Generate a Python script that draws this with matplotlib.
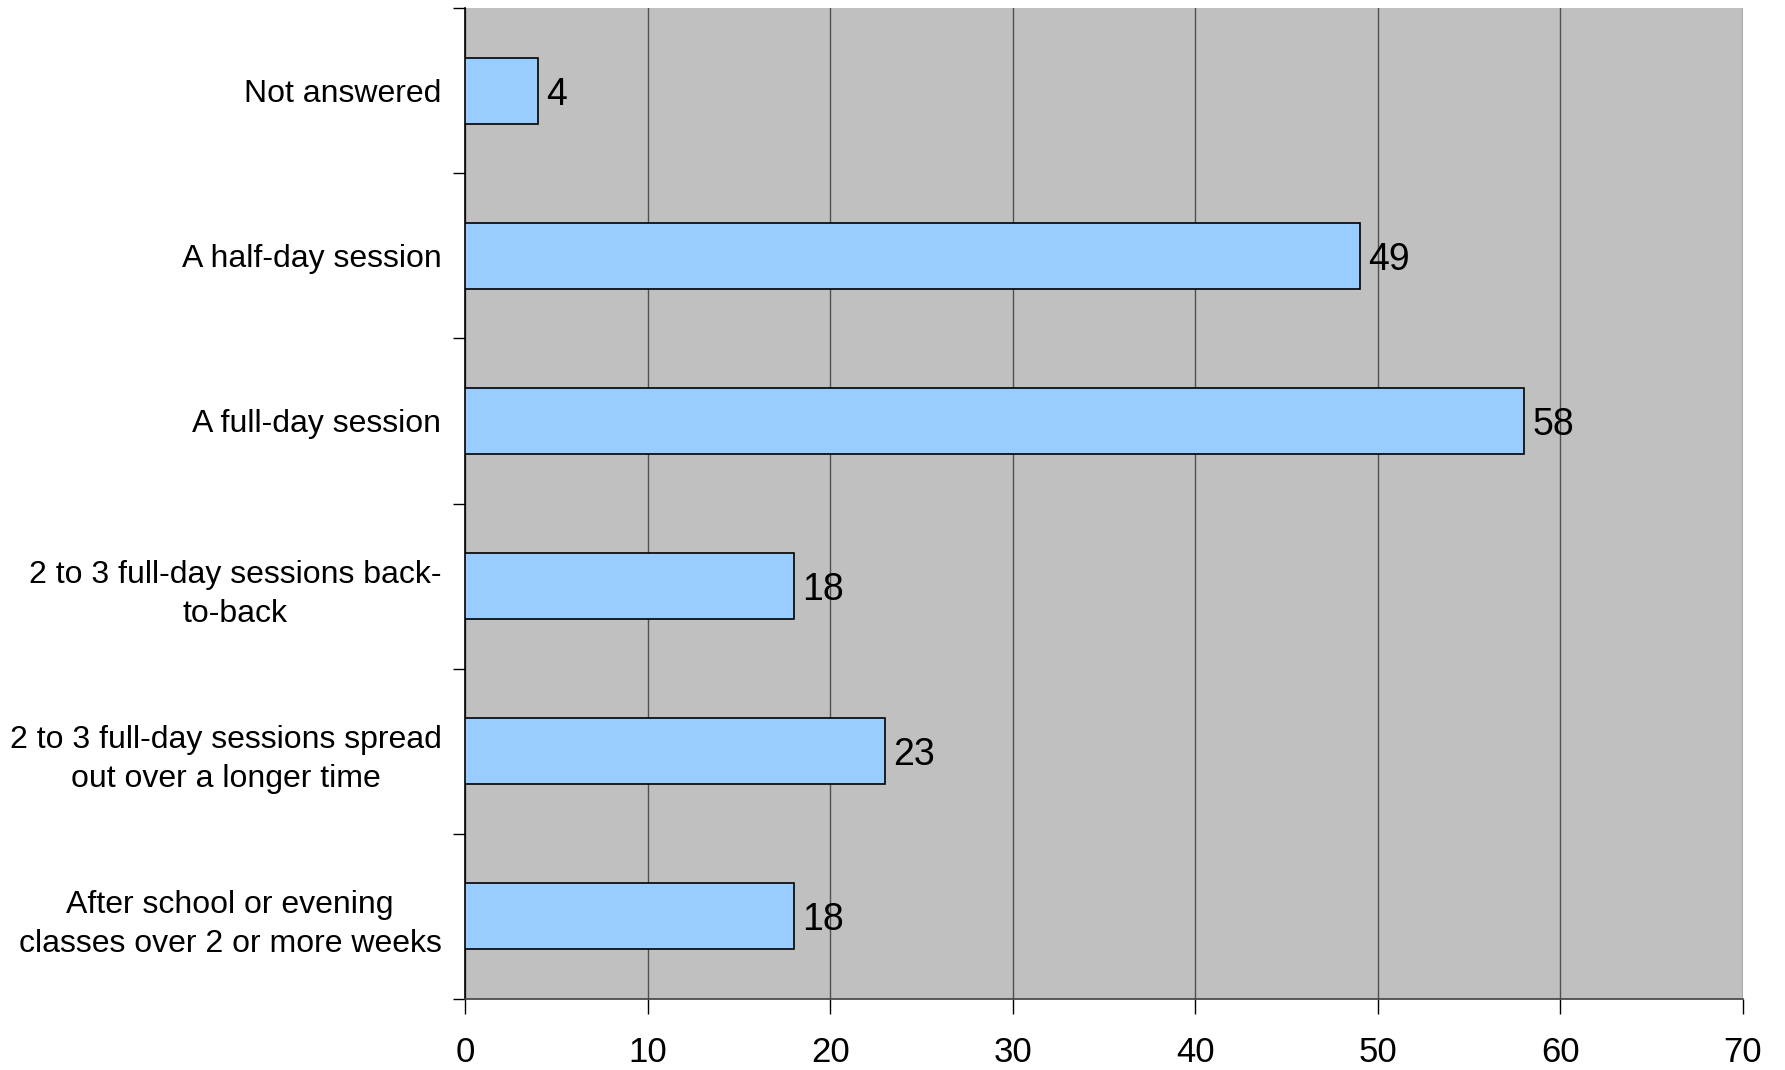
import matplotlib
matplotlib.use("Agg")
import matplotlib.pyplot as plt
import numpy as np

categories = [
    "Not answered",
    "A half-day session",
    "A full-day session",
    "2 to 3 full-day sessions back-\nto-back",
    "2 to 3 full-day sessions spread\nout over a longer time",
    "After school or evening\nclasses over 2 or more weeks",
]
values = [4, 49, 58, 18, 23, 18]
xticks = [0, 10, 20, 30, 40, 50, 60, 70]

plt.rcParams['font.family'] = ['Liberation Sans', 'DejaVu Sans']

fig = plt.figure(figsize=(17.85, 10.70), dpi=100)
ax = fig.add_axes([465/1785, 1 - 999/1070, (1743 - 465)/1785, (999 - 8)/1070])
ax.set_facecolor('#c0c0c0')

n = len(categories)
pos = np.arange(n)
ax.barh(pos, values, height=0.4, color='#99ccff', edgecolor='black', linewidth=1.2, zorder=3)
for p, v in zip(pos, values):
    ax.annotate(str(v), (v, p), xytext=(6, 0), textcoords='offset points',
                va='center_baseline', ha='left', fontsize=27, zorder=4)

ax.set_xlim(0, 70)
ax.set_ylim(n - 0.5, -0.5)
ax.set_xticks(xticks)
ax.set_xticklabels([str(t) for t in xticks], fontsize=25)
ax.tick_params(axis='x', direction='out', length=11, width=1, pad=16, colors='black')
ax.xaxis.grid(True, color='#505050', linewidth=1, zorder=1)
ax.set_axisbelow(True)

ax.set_yticks(np.arange(n + 1) - 0.5)
ax.set_yticklabels([])
ax.tick_params(axis='y', which='major', direction='out', length=9, width=1)
ax.set_yticks(pos, minor=True)
ax.set_yticklabels(categories, minor=True, fontsize=23, multialignment='center', linespacing=1.4)
ax.tick_params(axis='y', which='minor', length=0, pad=17)

for s in ['top', 'right']:
    ax.spines[s].set_visible(False)
ax.spines['left'].set_linewidth(1.2)
ax.spines['bottom'].set_linewidth(1.2)
ax.spines['bottom'].set_color('#404040')

fig.savefig('out.png', dpi=100, facecolor='white')
